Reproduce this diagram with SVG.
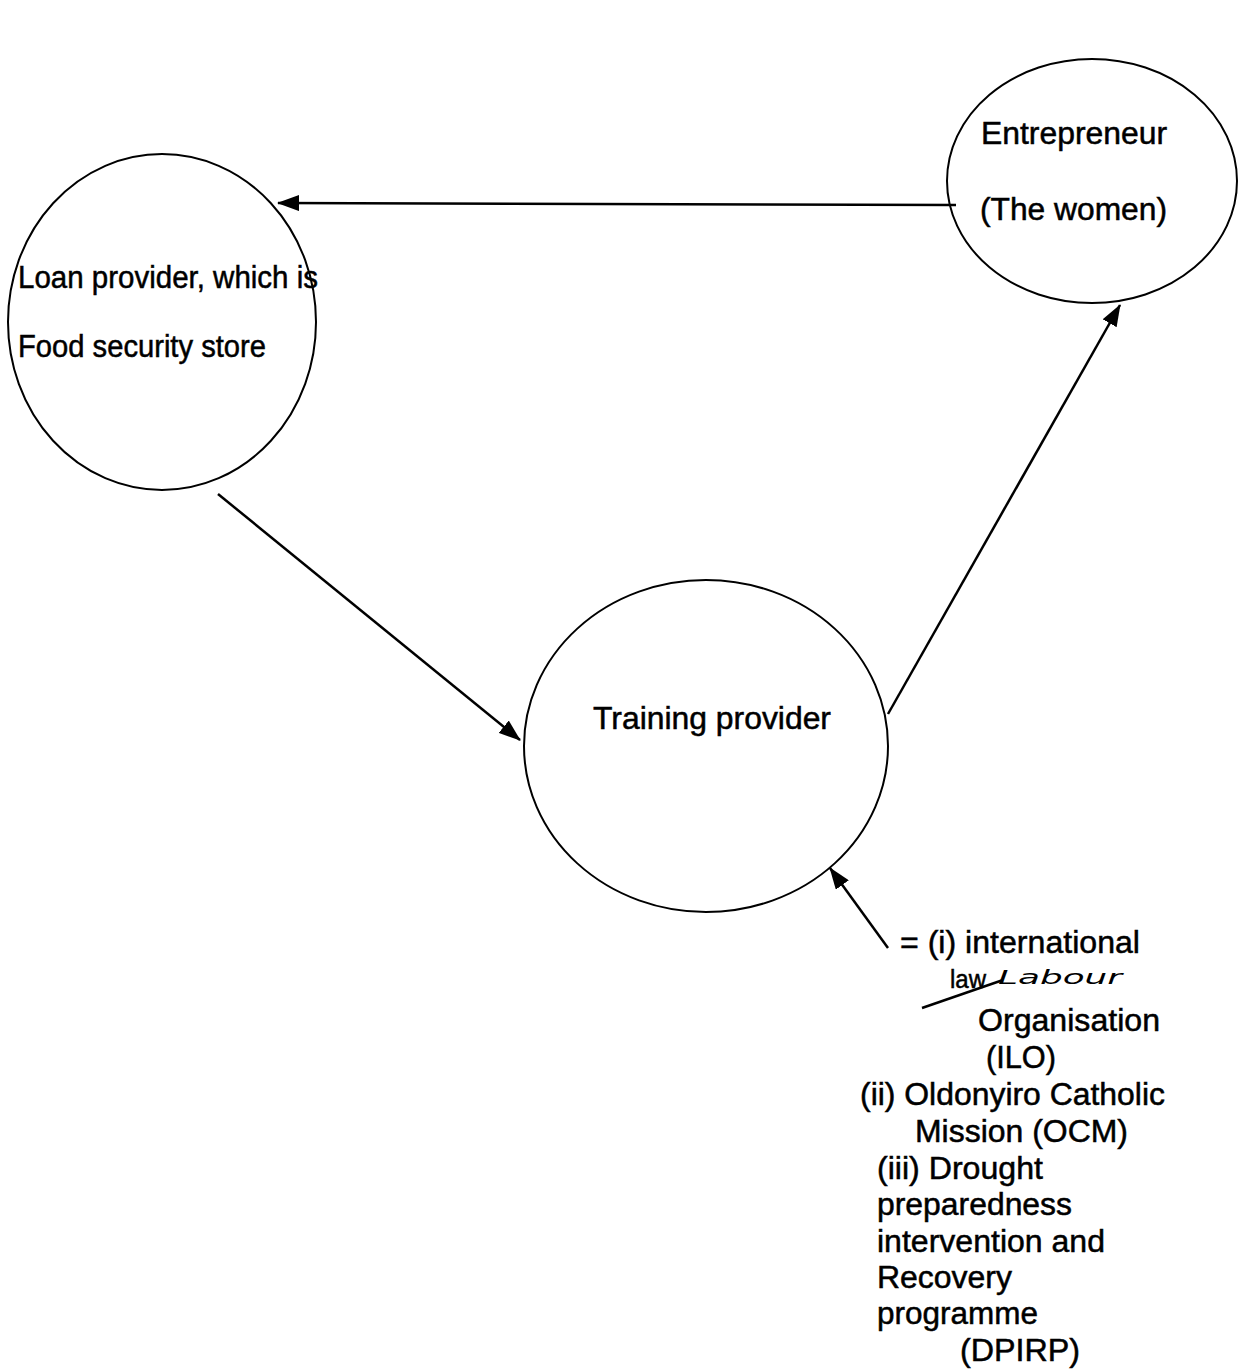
<svg xmlns="http://www.w3.org/2000/svg" width="1244" height="1371" viewBox="0 0 1244 1371">
<defs>
<style>
.node{fill:none;stroke:#000;stroke-width:2}
.t{font-family:"Liberation Sans",Arial,sans-serif;font-size:31px;fill:#000;stroke:#000;stroke-width:0.5}
.c{stroke:#000;stroke-width:2.5;fill:none}
.hw{font-family:"DejaVu Sans",sans-serif;font-style:italic;font-size:19px;fill:#000}
</style>
<marker id="ah" markerWidth="22" markerHeight="16" refX="21" refY="8" orient="auto" markerUnits="userSpaceOnUse">
<path d="M0,0 L22,8 L0,16 Z" fill="#000"/>
</marker>
</defs>
<rect width="1244" height="1371" fill="#fff"/>
<g id="entrepreneur">
<ellipse class="node" cx="1092" cy="181" rx="145" ry="122"/>
<text class="t" x="981" y="144" textLength="186" lengthAdjust="spacingAndGlyphs">Entrepreneur</text>
<text class="t" x="980" y="220" textLength="187" lengthAdjust="spacingAndGlyphs">(The women)</text>
</g>
<g id="loan-provider">
<ellipse class="node" cx="162" cy="322" rx="154" ry="168"/>
<text class="t" x="18" y="288" textLength="300" lengthAdjust="spacingAndGlyphs">Loan provider, which is</text>
<text class="t" x="18" y="357" textLength="248" lengthAdjust="spacingAndGlyphs">Food security store</text>
</g>
<g id="training-provider">
<ellipse class="node" cx="706" cy="746" rx="182" ry="166"/>
<text class="t" x="593" y="729" textLength="238" lengthAdjust="spacingAndGlyphs">Training provider</text>
</g>
<g id="organisations">
<text class="t" x="900" y="953" textLength="240" lengthAdjust="spacingAndGlyphs">= (i) international</text>
<text class="t" x="950" y="988" style="font-size:25px" textLength="36" lengthAdjust="spacingAndGlyphs">law</text>
<text class="hw" x="998" y="984" textLength="124" lengthAdjust="spacingAndGlyphs">Labour</text>
<path d="M922,1008 Q962,994 1003,980" stroke="#000" stroke-width="2.5" fill="none"/>
<text class="t" x="978" y="1031" textLength="182" lengthAdjust="spacingAndGlyphs">Organisation</text>
<text class="t" x="986" y="1068" textLength="70" lengthAdjust="spacingAndGlyphs">(ILO)</text>
<text class="t" x="860" y="1105" textLength="305" lengthAdjust="spacingAndGlyphs">(ii) Oldonyiro Catholic</text>
<text class="t" x="915" y="1142" textLength="213" lengthAdjust="spacingAndGlyphs">Mission (OCM)</text>
<text class="t" x="877" y="1179" textLength="166" lengthAdjust="spacingAndGlyphs">(iii) Drought</text>
<text class="t" x="877" y="1215" textLength="195" lengthAdjust="spacingAndGlyphs">preparedness</text>
<text class="t" x="877" y="1252" textLength="228" lengthAdjust="spacingAndGlyphs">intervention and</text>
<text class="t" x="877" y="1288" textLength="135" lengthAdjust="spacingAndGlyphs">Recovery</text>
<text class="t" x="877" y="1324" textLength="161" lengthAdjust="spacingAndGlyphs">programme</text>
<text class="t" x="960" y="1361" textLength="120" lengthAdjust="spacingAndGlyphs">(DPIRP)</text>
</g>
<g id="connectors">
<line class="c" x1="956" y1="205" x2="278" y2="203" marker-end="url(#ah)"/>
<line class="c" x1="218" y1="494" x2="520" y2="740" marker-end="url(#ah)"/>
<line class="c" x1="888" y1="714" x2="1120" y2="305" marker-end="url(#ah)"/>
<line class="c" x1="888" y1="948" x2="830" y2="868" marker-end="url(#ah)"/>
</g>
</svg>
